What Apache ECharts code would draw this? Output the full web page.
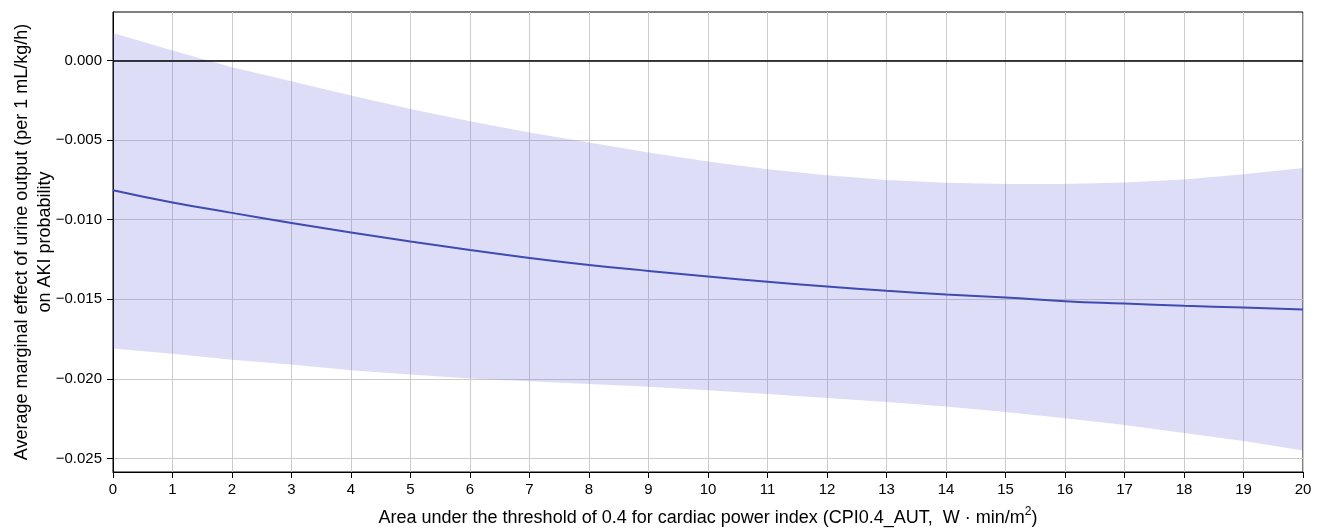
<!DOCTYPE html>
<html>
<head>
<meta charset="utf-8">
<script src="https://cdn.jsdelivr.net/npm/echarts@6/dist/echarts.min.js"></script>
<style>html,body{margin:0;padding:0;background:#fff}#c{width:1321px;height:528px}</style>
</head>
<body>
<div id="c"></div>
<script>
const xValues = [0,1,2,3,4,5,6,7,8,9,10,11,12,13,14,15,16,17,18,19,20];
const meanEffect = [-0.00815,-0.00892,-0.00957,-0.0102,-0.0108,-0.01137,-0.0119,-0.0124,-0.01284,-0.01322,-0.01357,-0.0139,-0.0142,-0.01447,-0.0147,-0.01489,-0.01512,-0.01527,-0.01541,-0.01552,-0.01564];
const upperCI = [0.00173,0.00063,-0.00042,-0.0013,-0.00219,-0.00305,-0.00382,-0.00452,-0.00515,-0.00578,-0.00635,-0.00683,-0.0072,-0.00750,-0.00767,-0.00775,-0.00775,-0.00766,-0.00748,-0.00714,-0.00675];
const lowerCI = [-0.01809,-0.01842,-0.0188,-0.0191,-0.01945,-0.01972,-0.01997,-0.02015,-0.02032,-0.0205,-0.02072,-0.02095,-0.0212,-0.02145,-0.02174,-0.02208,-0.02247,-0.02289,-0.0234,-0.02391,-0.0245];
const yTicks = [-0.025,-0.020,-0.015,-0.010,-0.005,0.000];

const FONT = '"Liberation Sans", Arial, sans-serif';
const chart = echarts.init(document.getElementById('c'), null, {renderer:'canvas'});
const bandRows = xValues.map((x,i)=>[x, lowerCI[i], upperCI[i]]);
const meanData = xValues.map((x,i)=>[x, meanEffect[i]]);

function renderBand(params, api){
  if (params.dataIndex !== 0) return null;
  const top = [], bot = [];
  for (let i = 0; i < bandRows.length; i++){
    top.push(api.coord([bandRows[i][0], bandRows[i][2]]));
    bot.push(api.coord([bandRows[i][0], bandRows[i][1]]));
  }
  const pts = top.concat(bot.reverse());
  return {type:'polygon', shape:{points:pts}, style:{fill:'rgba(100,100,225,0.22)', stroke:'none'}, silent:true};
}

chart.setOption({
  animation:false,
  grid:{left:113, right:18, top:12, bottom:56, outerBoundsMode:'none', containLabel:false,
    show:true, borderColor:'#000', borderWidth:1, backgroundColor:'transparent'},
  xAxis:{
    type:'value', min:0, max:20, interval:1,
    name:'Area under the threshold of 0.4 for cardiac power index (CPI0.4_AUT,  W · min/m{sup|2})',
    nameLocation:'middle', nameGap:34, nameMoveOverlap:false,
    nameTextStyle:{fontFamily:FONT, fontSize:18, color:'#000',
      rich:{sup:{fontFamily:FONT, fontSize:12, color:'#000', padding:[0,0,12,0]}}},
    axisLine:{onZero:false, lineStyle:{color:'#000', width:1}},
    axisTick:{show:true, length:6, lineStyle:{color:'#000'}},
    axisLabel:{fontFamily:FONT, fontSize:15, color:'#000', margin:10},
    splitLine:{show:true, lineStyle:{color:'#cccccc', width:1}}
  },
  yAxis:{
    type:'value', min:-0.02585, max:0.00305,
    name:'Average marginal effect of urine output (per 1 mL/kg/h)\non AKI probability',
    nameLocation:'middle', nameGap:56, nameRotate:90, nameMoveOverlap:false,
    nameTextStyle:{fontFamily:FONT, fontSize:18, color:'#000', lineHeight:23, align:'center'},
    axisLine:{onZero:false, lineStyle:{color:'#000', width:1}},
    axisTick:{show:true, length:6, lineStyle:{color:'#000'}, customValues:yTicks},
    axisLabel:{fontFamily:FONT, fontSize:15, color:'#000', margin:11, customValues:yTicks,
      formatter:v=>(v<0?'\u2212':'')+Math.abs(v).toFixed(3)},
    splitLine:{show:true, lineStyle:{color:'#cccccc', width:1}}
  },
  series:[
    {type:'custom', data:bandRows, renderItem:renderBand, encode:{x:0, y:[1,2]}, silent:true, z:1, clip:true},
    {type:'line', data:meanData, symbol:'none', smooth:true,
      lineStyle:{color:'#3f4bb0', width:2}, z:3,
      markLine:{silent:true, symbol:'none', label:{show:false},
        lineStyle:{color:'#000', width:1.5, type:'solid'}, data:[{yAxis:0}]}}
  ]
});
</script>
</body>
</html>
